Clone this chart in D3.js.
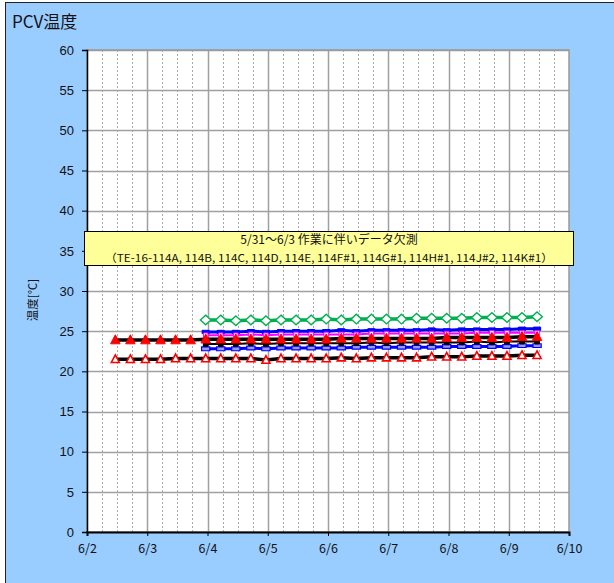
<!DOCTYPE html>
<html><head><meta charset="utf-8">
<script src="https://cdn.jsdelivr.net/npm/d3@7/dist/d3.min.js"></script>
<style>body{margin:0;background:#fff}svg{display:block}</style>
</head><body><svg id="c" width="614" height="583"></svg>
<script>
// ---- data ----
const xTickLabels = ["6/2","6/3","6/4","6/5","6/6","6/7","6/8","6/9","6/10"];
const yTicks = [0,5,10,15,20,25,30,35,40,45,50,55,60];
// sample times (days after 6/2 00:00), every 6 hours
const times = [0.47,0.72,0.97,1.22,1.47,1.72,1.97,2.22,2.47,2.72,2.97,3.22,3.47,3.72,3.97,4.22,4.47,4.72,4.97,5.22,5.47,5.72,5.97,6.22,6.47,6.72,6.97,7.22,7.47];
const seriesGreen   = [null,null,null,null,null,null,26.4,26.4,26.3,26.4,26.3,26.4,26.4,26.4,26.5,26.4,26.5,26.5,26.5,26.5,26.6,26.6,26.6,26.6,26.7,26.7,26.7,26.7,26.8];
const seriesBlue    = [null,null,null,null,null,null,24.9,24.9,24.9,25.0,24.9,25.0,25.0,25.0,25.0,25.1,25.0,25.1,25.1,25.1,25.1,25.2,25.1,25.2,25.2,25.2,25.2,25.3,25.3];
const seriesMagenta = [null,null,null,null,null,null,24.5,24.5,24.5,24.6,24.5,24.6,24.6,24.6,24.6,24.6,24.6,24.7,24.7,24.7,24.7,24.7,24.7,24.7,24.8,24.8,24.8,24.8,24.8];
const seriesRedFill = [23.9,23.9,23.9,23.9,23.9,23.9,24.0,24.0,24.0,24.0,24.0,24.0,24.0,24.0,24.0,24.1,24.1,24.1,24.1,24.1,24.1,24.1,24.2,24.2,24.2,24.2,24.2,24.3,24.3];
const seriesBlack   = [null,null,null,null,null,null,23.4,23.4,23.4,23.5,23.4,23.5,23.5,23.5,23.5,23.5,23.5,23.6,23.5,23.6,23.6,23.6,23.6,23.6,23.7,23.6,23.7,23.7,23.7];
const seriesLtBlue  = [null,null,null,null,null,null,22.8,22.8,22.8,22.9,22.8,22.9,22.9,22.9,22.9,22.9,23.0,23.0,23.0,23.0,23.0,23.0,23.1,23.1,23.1,23.1,23.1,23.2,23.2];
const seriesRedOpen = [21.5,21.5,21.5,21.5,21.6,21.6,21.6,21.6,21.6,21.6,21.4,21.6,21.6,21.6,21.6,21.7,21.6,21.7,21.7,21.7,21.7,21.8,21.8,21.8,21.9,21.9,21.9,22.0,22.0];
const noteLines = ["5/31～6/3 作業に伴いデータ欠測","（TE-16-114A, 114B, 114C, 114D, 114E, 114F#1, 114G#1, 114H#1, 114J#2, 114K#1）"];

// ---- layout ----
const svg = d3.select("#c");
const L=87, R=569, T=50, B=532;
const x = d3.scaleLinear().domain([0,8]).range([L,R]);
const y = d3.scaleLinear().domain([0,60]).range([B,T]);
const numFont = "'Liberation Sans', Arial, sans-serif";
const jpFont = "'Noto Sans CJK JP', sans-serif";

svg.append("rect").attr("x",5.5).attr("y",2.5).attr("width",620).attr("height",600)
  .attr("fill","#99CCFF").attr("stroke","#222").attr("stroke-width",1);
svg.append("rect").attr("x",L).attr("y",T).attr("width",R-L).attr("height",B-T).attr("fill","#fff");

// grid
const g = svg.append("g");
g.selectAll(".vminor").data(d3.range(0,8.01,0.25).filter(d=>Math.abs(d-Math.round(d))>1e-6)).join("line")
  .attr("x1",d=>Math.round(x(d))+0.5).attr("x2",d=>Math.round(x(d))+0.5).attr("y1",T).attr("y2",B)
  .attr("stroke","#aaa").attr("stroke-dasharray","2,2");
g.selectAll(".vmajor").data(d3.range(1,8)).join("line")
  .attr("x1",d=>Math.round(x(d))+0.5).attr("x2",d=>Math.round(x(d))+0.5).attr("y1",T).attr("y2",B)
  .attr("stroke","#a0a0a0").attr("stroke-width",1.5);
g.selectAll(".hgrid").data(yTicks.slice(1)).join("line")
  .attr("x1",L).attr("x2",R).attr("y1",d=>Math.round(y(d))+0.5).attr("y2",d=>Math.round(y(d))+0.5)
  .attr("stroke","#a0a0a0").attr("stroke-width",1.5);
svg.append("rect").attr("x",L).attr("y",T).attr("width",R-L).attr("height",B-T).attr("fill","none").attr("stroke","#999").attr("stroke-width",1.5);

// axes
const yAxis = svg.append("g").attr("transform",`translate(${L},0)`)
  .call(d3.axisLeft(y).tickValues(yTicks).tickSize(5).tickPadding(8));
yAxis.select(".domain").attr("stroke","#000").attr("stroke-width",1.5);
yAxis.selectAll("text").attr("font-family",numFont).attr("font-size",13).attr("fill","#111");
const xAxis = svg.append("g").attr("transform",`translate(0,${B})`)
  .call(d3.axisBottom(x).tickValues(d3.range(0,9)).tickFormat((d,i)=>xTickLabels[i]).tickSize(4).tickPadding(8));
xAxis.select(".domain").attr("stroke","#000").attr("stroke-width",2);
xAxis.selectAll("text").attr("font-family",jpFont).attr("font-size",12.5).attr("fill","#111");

// title + y label
svg.append("text").attr("x",12).attr("y",28).text("PCV温度").attr("font-family",jpFont).attr("font-size",17).attr("fill","#111");
svg.append("text").attr("transform","translate(37,300) rotate(-90)").attr("text-anchor","middle")
  .text("温度[℃]").attr("font-family",jpFont).attr("font-size",11.5).attr("fill","#111");

// series
const pts = arr => arr.map((v,i)=>({t:times[i],v})).filter(d=>d.v!==null);
const line = d3.line().x(d=>x(d.t)).y(d=>y(d.v));
function drawLine(arr,color,w){ svg.append("path").datum(pts(arr)).attr("d",line).attr("fill","none").attr("stroke",color).attr("stroke-width",w); }
function drawMarks(arr,type,size,fill,stroke,sw){
  svg.append("g").selectAll("path").data(pts(arr)).join("path")
    .attr("transform",d=>`translate(${x(d.t)},${y(d.v)})`)
    .attr("d",d3.symbol().type(type).size(size))
    .attr("fill",fill).attr("stroke",stroke).attr("stroke-width",sw);
}
const diamond = {draw(ctx,s){const r=Math.sqrt(s)/2*1.2;ctx.moveTo(0,-r);ctx.lineTo(r*1.1,0);ctx.lineTo(0,r);ctx.lineTo(-r*1.1,0);ctx.closePath();}};
const tri = {draw(ctx,s){const r=Math.sqrt(s)/2;ctx.moveTo(0,-r*1.1);ctx.lineTo(r,r*0.8);ctx.lineTo(-r,r*0.8);ctx.closePath();}};
const rectW = {draw(ctx,s){const r=Math.sqrt(s)/2;ctx.rect(-r*1.3,-r*0.6,r*2.6,r*1.2);}};

drawLine(seriesLtBlue,"#0000FF",3);
drawMarks(seriesLtBlue,rectW,40,"#9999FF","#0000FF",1.2);
drawLine(seriesRedOpen,"#000",3.5);
drawMarks(seriesRedOpen,tri,64,"#fff","#FF0000",1.6);
drawLine(seriesBlack,"#000",2);
drawMarks(seriesBlack,d3.symbolSquare,22,"#000","#000",1);
drawLine(seriesGreen,"#00B050",3.5);
drawMarks(seriesGreen,diamond,64,"#fff","#00B050",1.4);
drawLine(seriesBlue,"#0000FF",3);
drawMarks(seriesBlue,rectW,30,"#0000FF","#0000FF",1);
drawLine(seriesMagenta,"#FF00FF",2);
drawMarks(seriesMagenta,d3.symbolSquare,20,"#fff","#FF00FF",1);
drawLine(seriesRedFill,"#000",3.5);
drawMarks(seriesRedFill,tri,90,"#FF0000","#FF0000",1);

// annotation
svg.append("rect").attr("x",84.5).attr("y",231.5).attr("width",489).attr("height",34)
  .attr("fill","#FFFF99").attr("stroke","#000").attr("stroke-width",1);
svg.append("text").attr("x",329).attr("y",244).attr("text-anchor","middle").text(noteLines[0])
  .attr("font-family",jpFont).attr("font-size",12).attr("fill","#111");
svg.append("text").attr("x",329).attr("y",261.5).attr("text-anchor","middle").text(noteLines[1])
  .attr("font-family",jpFont).attr("font-size",11).attr("textLength",448).attr("lengthAdjust","spacingAndGlyphs").attr("fill","#111");
</script></body></html>
